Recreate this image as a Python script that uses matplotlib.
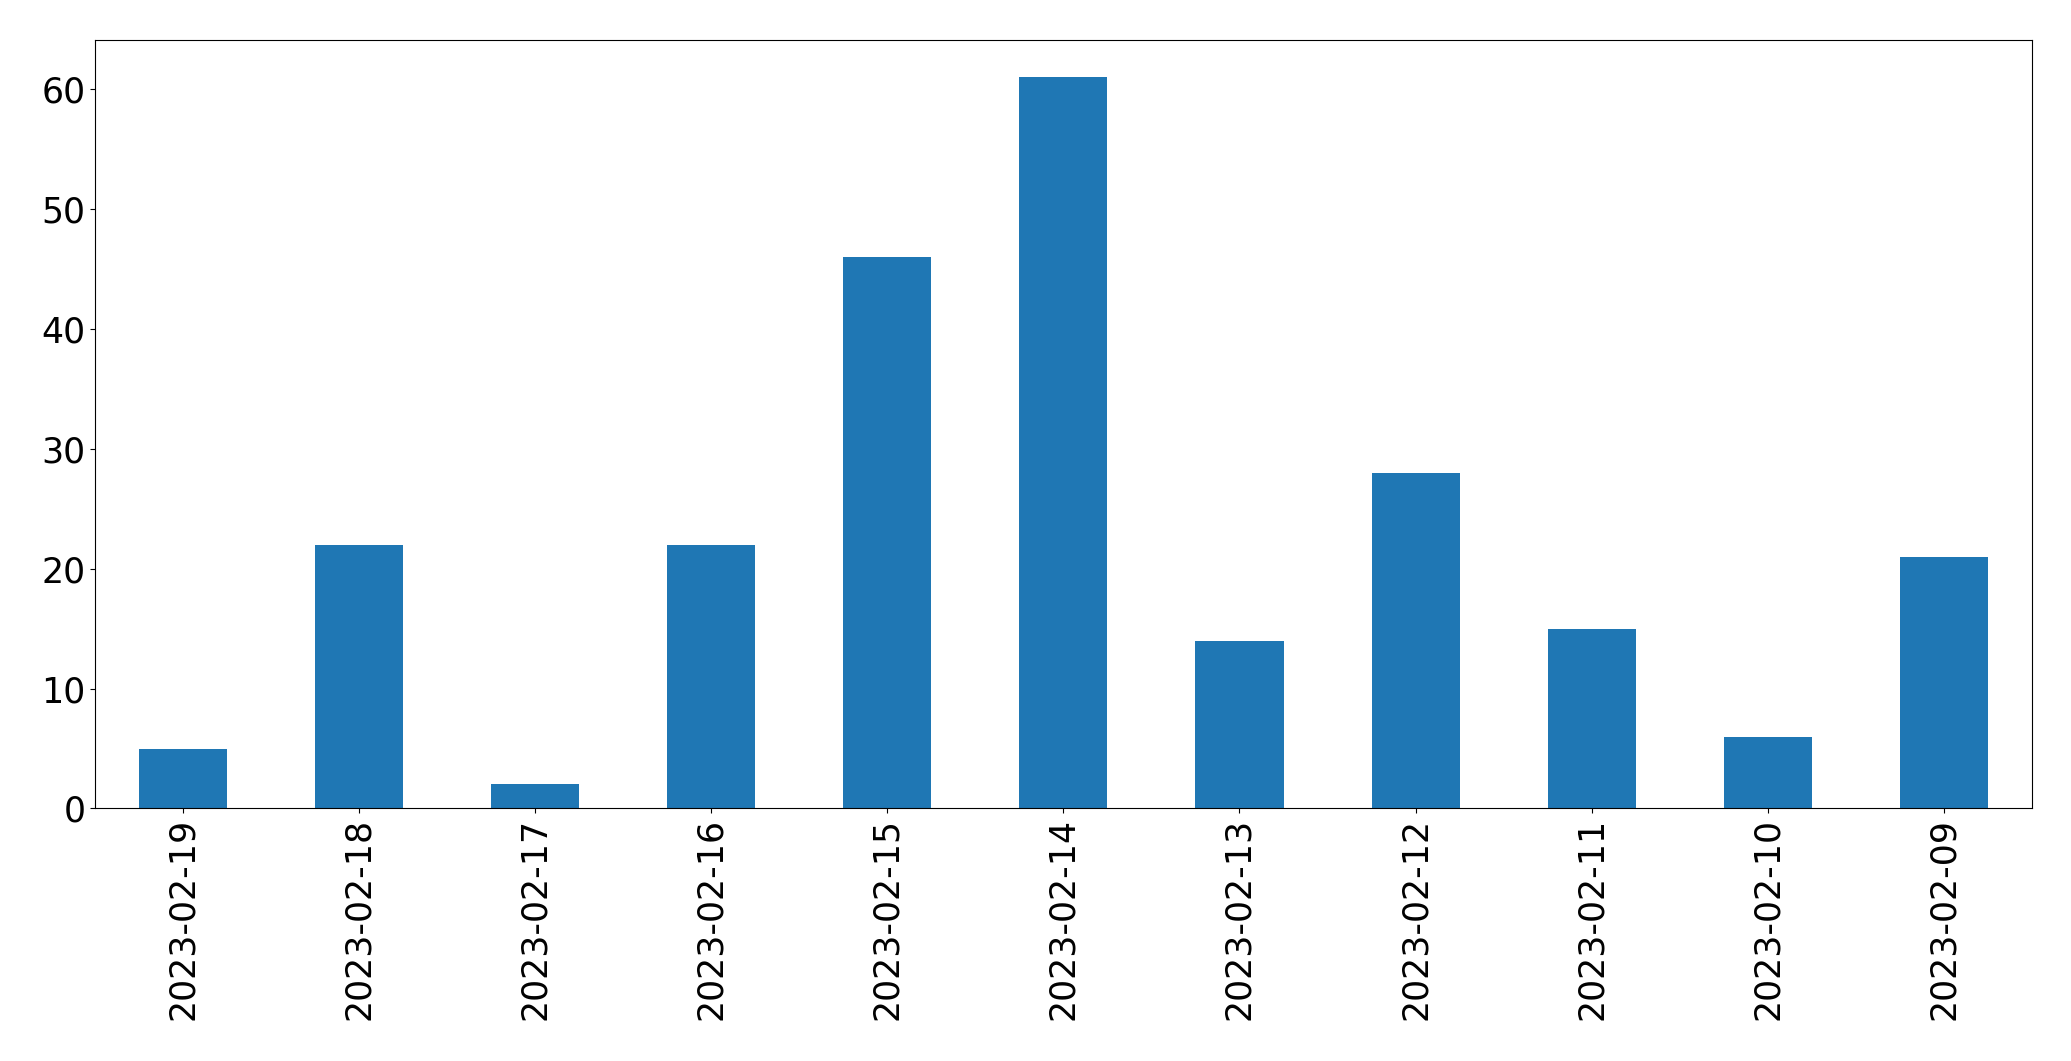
import matplotlib
matplotlib.use("Agg")
import matplotlib.pyplot as plt
import pandas as pd

dates = ['2023-02-19', '2023-02-18', '2023-02-17', '2023-02-16', '2023-02-15',
         '2023-02-14', '2023-02-13', '2023-02-12', '2023-02-11', '2023-02-10',
         '2023-02-09']
counts = [5, 22, 2, 22, 46, 61, 14, 28, 15, 6, 21]

s = pd.Series(counts, index=dates)

fig, ax = plt.subplots(figsize=(20.71, 10.61), dpi=100)
s.plot(kind='bar', ax=ax, color='#1f77b4', fontsize=25)
plt.subplots_adjust(left=0.046, right=0.981, top=0.962, bottom=0.238)

fig.savefig('out.png', dpi=100)
